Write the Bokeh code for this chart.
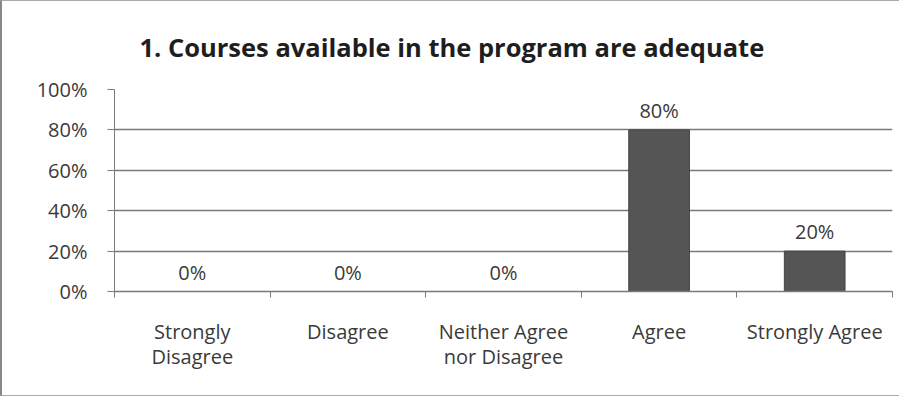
from bokeh.plotting import figure
from bokeh.models import ColumnDataSource, Range1d, FixedTicker, NumeralTickFormatter
from bokeh.core.properties import value
from bokeh.embed import file_html
from bokeh.resources import INLINE

categories = ["Strongly\nDisagree", "Disagree", "Neither Agree\nnor Disagree", "Agree", "Strongly Agree"]
percent_values = [0, 0, 0, 80, 20]
y_ticks = [0, 0.2, 0.4, 0.6, 0.8, 1.0]
title_text = "1. Courses available in the program are adequate"

FONT = "Open Sans"
n = len(categories)
xs = [i + 0.5 for i in range(n)]
src = ColumnDataSource(dict(
    x=xs,
    top=[v / 100 for v in percent_values],
    label=[f"{v}%" for v in percent_values],
))

p = figure(width=899, height=396, output_backend="svg", toolbar_location=None,
           x_range=Range1d(0, n), y_range=Range1d(0, 1),
           min_border_left=112, min_border_right=9, min_border_top=88, min_border_bottom=106)
p.styles = {"border-left": "2px solid #888888", "border-top": "1px solid #aaaaaa",
            "border-bottom": "1px solid #aaaaaa"}

p.title.text = title_text
p.title.text_font = FONT
p.title.text_font_size = "25.5px"
p.title.text_font_style = "bold"
p.title.text_color = "#1e1e1e"
p.title.align = "left"
p.title.offset = 25
p.title.standoff = 52

p.vbar(x="x", top="top", width=0.39, bottom=0, source=src,
       fill_color="#555555", line_color="#444444", line_width=1)
p.text(x="x", y="top", text="label", source=src, text_align="center",
       text_baseline="bottom", y_offset=-6, text_font=value(FONT),
       text_font_size="20px", text_color="#3a3a3a")

p.outline_line_color = None
p.background_fill_color = "white"
p.border_fill_color = "white"

p.xgrid.grid_line_color = None
p.ygrid.grid_line_color = "#7a7a7a"
p.ygrid.grid_line_width = 1.5
p.ygrid.ticker = FixedTicker(ticks=y_ticks)

p.yaxis.ticker = FixedTicker(ticks=y_ticks)
p.yaxis.formatter = NumeralTickFormatter(format="0%")
p.yaxis.axis_line_color = "#7a7a7a"
p.yaxis.major_tick_line_color = "#7a7a7a"
p.yaxis.major_tick_out = 7
p.yaxis.major_tick_in = 0
p.yaxis.minor_tick_line_color = None
p.yaxis.major_label_text_font = FONT
p.yaxis.major_label_text_font_size = "20px"
p.yaxis.major_label_text_color = "#3a3a3a"
p.yaxis.major_label_standoff = 20

p.xaxis.ticker = FixedTicker(ticks=xs, minor_ticks=list(range(n + 1)))
p.xaxis.major_label_overrides = {x: c for x, c in zip(xs, categories)}
p.xaxis.axis_line_color = "#7a7a7a"
p.xaxis.axis_line_width = 1.5
p.xaxis.major_tick_line_color = None
p.xaxis.minor_tick_line_color = "#7a7a7a"
p.xaxis.minor_tick_out = 6
p.xaxis.minor_tick_in = 0
p.xaxis.major_label_text_font = FONT
p.xaxis.major_label_text_font_size = "20px"
p.xaxis.major_label_text_color = "#3a3a3a"
p.xaxis.major_label_standoff = 20
p.xaxis.major_label_text_line_height = 0.95

open("out.html", "w").write(file_html(p, INLINE))
